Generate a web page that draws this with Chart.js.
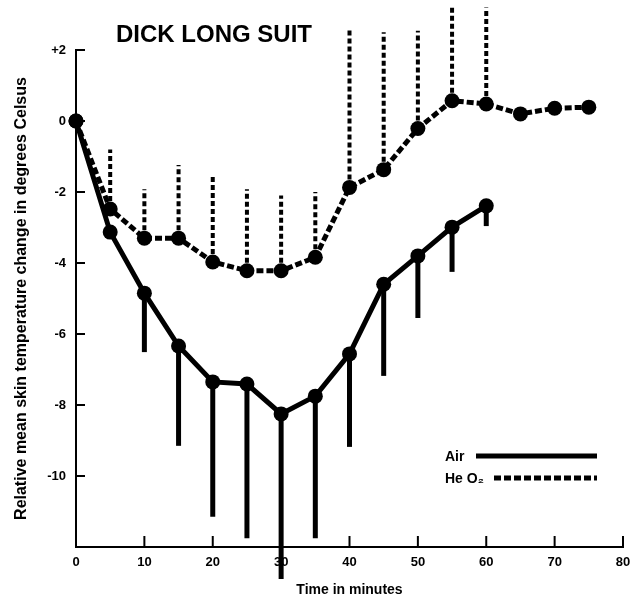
<!DOCTYPE html>
<html>
<head>
<meta charset="utf-8">
<script src="https://cdn.jsdelivr.net/npm/chart.js@4.4.1/dist/chart.umd.min.js"></script>
<style>
  html, body { margin: 0; padding: 0; background: #fff; }
  #wrap { width: 640px; height: 603px; }
</style>
</head>
<body>
<div id="wrap"><canvas id="chart" width="640" height="603"></canvas></div>
<script>
// time in minutes
const times = [0, 5, 10, 15, 20, 25, 30, 35, 40, 45, 50, 55, 60, 65, 70, 75];

// Air: mean change and lower end of the bar
const airMean = [0, -3.13, -4.85, -6.34, -7.35, -7.41, -8.25, -7.75, -6.56, -4.6, -3.8, -2.99, -2.39];
const airLow  = [null, null, -6.51, -9.15, -11.15, -11.75, -12.9, -11.75, -9.18, -7.18, -5.55, -4.25, -2.96];

// He O2: mean change and upper end of the bar
const heMean = [0, -2.48, -3.3, -3.3, -3.97, -4.22, -4.22, -3.84, -1.87, -1.37, -0.21, 0.57, 0.48, 0.2, 0.36, 0.39];
const heHigh = [null, -0.8, -1.92, -1.24, -1.58, -1.92, -2.1, -2.0, 2.59, 2.5, 2.54, 3.24, 3.2, null, null, null];

const yTicks = [2, 0, -2, -4, -6, -8, -10];
const xTicks = [0, 10, 20, 30, 40, 50, 60, 70, 80];

const FONT = "'Liberation Sans', Arial, sans-serif";

function pts(ys) {
  return ys.map((v, i) => ({ x: times[i], y: v }));
}

// error bars, inward ticks, title and legend
const extras = {
  id: "extras",
  beforeDatasetsDraw(c) {
    const ctx = c.ctx, xs = c.scales.x, ys = c.scales.y;
    ctx.save();
    ctx.strokeStyle = "#000";
    // air bars, solid, downward
    ctx.lineWidth = 5;
    ctx.lineCap = "butt";
    airLow.forEach((v, i) => {
      if (v === null) return;
      const px = xs.getPixelForValue(times[i]);
      ctx.beginPath();
      ctx.moveTo(px, ys.getPixelForValue(airMean[i]));
      ctx.lineTo(px, ys.getPixelForValue(v));
      ctx.stroke();
    });
    // He O2 bars, dashed, upward
    ctx.lineWidth = 4;
    ctx.setLineDash([5, 3]);
    heHigh.forEach((v, i) => {
      if (v === null) return;
      const px = xs.getPixelForValue(times[i]);
      ctx.beginPath();
      ctx.moveTo(px, ys.getPixelForValue(heMean[i]));
      ctx.lineTo(px, ys.getPixelForValue(v));
      ctx.stroke();
    });
    ctx.restore();
  },
  afterDraw(c) {
    const ctx = c.ctx, xs = c.scales.x, ys = c.scales.y, a = c.chartArea;
    ctx.save();
    ctx.strokeStyle = "#000";
    ctx.fillStyle = "#000";
    // ticks pointing into the plot
    ctx.lineWidth = 2;
    yTicks.forEach(v => {
      const py = ys.getPixelForValue(v);
      ctx.beginPath();
      ctx.moveTo(a.left, py);
      ctx.lineTo(a.left + 9, py);
      ctx.stroke();
    });
    xTicks.forEach(v => {
      const px = xs.getPixelForValue(v);
      ctx.beginPath();
      ctx.moveTo(px, a.bottom);
      ctx.lineTo(px, a.bottom - 11);
      ctx.stroke();
    });

    // title
    ctx.font = "bold 24px " + FONT;
    ctx.textBaseline = "alphabetic";
    ctx.textAlign = "left";
    ctx.fillText("DICK LONG SUIT", 116, 42);

    // legend
    ctx.font = "bold 14px " + FONT;
    ctx.fillText("Air", 445, 461);
    ctx.fillText("He O\u2082", 445, 483);
    ctx.lineWidth = 5;
    ctx.beginPath();
    ctx.moveTo(476, 456);
    ctx.lineTo(597, 456);
    ctx.stroke();
    ctx.setLineDash([7, 3]);
    ctx.beginPath();
    ctx.moveTo(494, 478);
    ctx.lineTo(597, 478);
    ctx.stroke();
    ctx.restore();
  }
};

new Chart(document.getElementById("chart"), {
  type: "line",
  data: {
    datasets: [
      {
        label: "Air",
        data: pts(airMean),
        borderColor: "#000",
        backgroundColor: "#000",
        borderWidth: 5,
        pointRadius: 7.5,
        pointBorderWidth: 0,
        tension: 0,
        clip: false
      },
      {
        label: "He O2",
        data: pts(heMean),
        borderColor: "#000",
        backgroundColor: "#000",
        borderWidth: 5,
        borderDash: [7, 3],
        pointRadius: 7.5,
        pointBorderWidth: 0,
        tension: 0,
        clip: false
      }
    ]
  },
  options: {
    responsive: false,
    animation: false,
    events: [],
    layout: { padding: { left: 0, top: 50, right: 17, bottom: 0 } },
    plugins: {
      legend: { display: false },
      tooltip: { enabled: false }
    },
    scales: {
      x: {
        type: "linear",
        min: 0,
        max: 80,
        afterFit(s) { s.height = 56; },
        afterBuildTicks(s) { s.ticks = xTicks.map(v => ({ value: v })); },
        grid: { display: true, drawOnChartArea: false, drawTicks: false },
        border: { display: true, color: "#000", width: 2 },
        ticks: {
          color: "#000",
          padding: 8,
          maxRotation: 0,
          font: { family: FONT, size: 13, weight: "bold" }
        },
        title: {
          display: true,
          text: "Time in minutes",
          color: "#000",
          padding: { top: 0, bottom: 4 },
          font: { family: FONT, size: 14, weight: "bold" }
        }
      },
      y: {
        type: "linear",
        min: -12,
        max: 2,
        afterFit(s) { s.width = 76; },
        afterBuildTicks(s) { s.ticks = yTicks.map(v => ({ value: v })); },
        grid: { display: true, drawOnChartArea: false, drawTicks: false },
        border: { display: true, color: "#000", width: 2 },
        ticks: {
          color: "#000",
          padding: 10,
          font: { family: FONT, size: 13, weight: "bold" },
          callback: v => (v > 0 ? "+" + v : String(v))
        },
        title: {
          display: true,
          text: "Relative mean skin temperature change in degrees Celsus",
          color: "#000",
          padding: { top: 12, bottom: 0 },
          font: { family: FONT, size: 16, weight: "bold" }
        }
      }
    }
  },
  plugins: [extras]
});
</script>
</body>
</html>
